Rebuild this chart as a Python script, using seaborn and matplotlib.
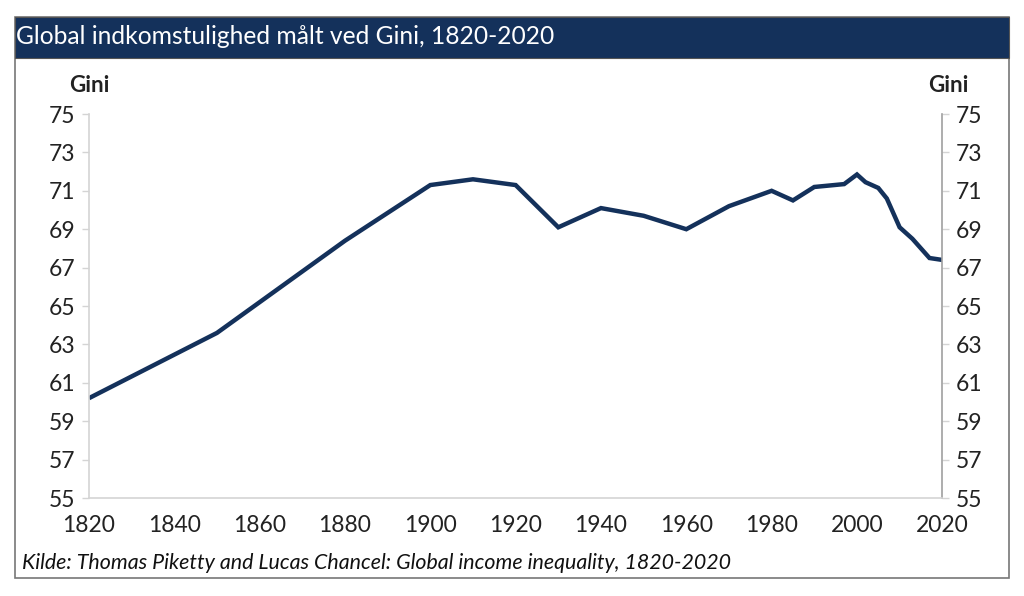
import matplotlib
matplotlib.use("Agg")
import matplotlib.pyplot as plt
import seaborn as sns
import pandas as pd
from matplotlib.patches import Rectangle

# Data
years = [1820, 1850, 1880, 1900, 1910, 1920, 1930, 1940, 1950, 1960, 1970,
         1980, 1985, 1990, 1997, 2000, 2002, 2005, 2007, 2010, 2013, 2017, 2020]
gini = [60.2, 63.6, 68.4, 71.3, 71.6, 71.3, 69.1, 70.1, 69.7, 69.0, 70.2,
        71.0, 70.5, 71.2, 71.35, 71.85, 71.45, 71.15, 70.6, 69.1, 68.5, 67.5, 67.4]
y_ticks = [55, 57, 59, 61, 63, 65, 67, 69, 71, 73, 75]
x_ticks = [1820, 1840, 1860, 1880, 1900, 1920, 1940, 1960, 1980, 2000, 2020]

title = "Global indkomstulighed målt ved Gini, 1820-2020"
source = "Kilde: Thomas Piketty and Lucas Chancel: Global income inequality, 1820-2020"

navy = "#14315b"

sns.set_theme(style="white")
plt.rcParams['font.family'] = ['Lato', 'DejaVu Sans']

df = pd.DataFrame({"year": years, "gini": gini})

fig = plt.figure(figsize=(10.24, 5.96), dpi=100)
ax = fig.add_axes([0.0869, 0.1644, 0.8333, 0.6443])

sns.lineplot(data=df, x="year", y="gini", ax=ax, color=navy, linewidth=3.2)
ax.lines[0].set_solid_capstyle("butt")
ax.lines[0].set_solid_joinstyle("miter")

ax.set_xlim(1820, 2020)
ax.set_ylim(55, 75)
ax.set_xticks(x_ticks)
ax.set_yticks(y_ticks)
ax.set_xlabel("")
ax.set_ylabel("")

ax.spines["top"].set_visible(False)
ax.spines["left"].set_color("#d4d4d4")
ax.spines["bottom"].set_color("#d4d4d4")
ax.spines["right"].set_visible(True)
ax.spines["right"].set_color("#a0a0a0")
for s in ax.spines.values():
    s.set_linewidth(1.2)

ax.tick_params(axis="y", left=True, right=True, labelleft=True, labelright=True,
               length=5, width=1.0, pad=5, labelsize=16.5, colors="#d4d4d4",
               labelcolor="#222222")
for t in ax.yaxis.get_ticklines()[1::2]:
    t.set_color("#a0a0a0")
ax.tick_params(axis="x", length=0, pad=12, labelsize=16.5, labelcolor="#222222")

# Unit labels
fig.text(0.087, 0.857, "Gini", fontsize=16, fontweight="bold", ha="center",
         va="center", color="#222222")
fig.text(0.926, 0.857, "Gini", fontsize=16, fontweight="bold", ha="center",
         va="center", color="#222222")

# Frame and title band
fig.patches.append(Rectangle((15 / 1024, 1 - 578 / 596), 994 / 1024, 561 / 596,
                             transform=fig.transFigure, fill=False,
                             edgecolor="#777777", linewidth=1.2))
fig.patches.append(Rectangle((15 / 1024, 1 - 58 / 596), 994 / 1024, 41 / 596,
                             transform=fig.transFigure, facecolor=navy,
                             edgecolor="#555555", linewidth=0.8))
fig.text(16 / 1024, 1 - 37 / 596, title, color="white", fontsize=17.7,
         ha="left", va="center")
fig.text(22 / 1024, 1 - 563 / 596, source, color="#111111", fontsize=15.4,
         style="italic", ha="left", va="center")

fig.savefig("out.png", dpi=100)
